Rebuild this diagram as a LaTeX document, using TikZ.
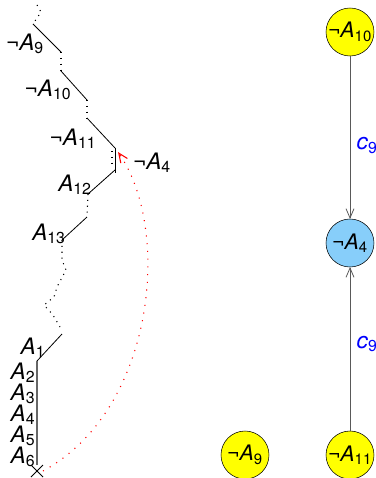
\documentclass[tikz,border=0pt]{standalone}
\usepackage{fontspec}
\setmainfont{TeX Gyre Heros}
\usetikzlibrary{arrows.meta,shapes.misc}
\definecolor{litfill}{RGB}{255,255,0}
\definecolor{focusfill}{RGB}{135,206,250}
\newcommand\lit[1]{\textit{A}\textsubscript{#1}}
\newcommand\nlit[1]{¬\lit{#1}}
\newcommand\cl[1]{\textit{c}\textsubscript{#1}}

\begin{document}
\begin{tikzpicture}[x=0.75pt,y=-0.75pt,
  every node/.style={inner sep=0pt, outer sep=0pt, font=\fontsize{17}{19}\selectfont},
  trail/.style={line width=0.6pt},
  gap/.style={line width=0.8pt, dash pattern=on 0.8pt off 3.6pt},
  lit/.style={circle, draw, fill=litfill, minimum size=36pt, font=\fontsize{16}{18}\selectfont},
  focus/.style={lit, fill=focusfill},
  clause/.style={text=blue},
  edge/.style={draw=black!65, line width=0.6pt, -{Straight Barb[length=7pt,width=6pt]}}]
  \useasboundingbox (0,0) rectangle (375,478);
  \draw[gap] (37,5) -- (41,12) -- (33,24);
  \draw[trail] (33,24) -- (61,52);
  \draw[gap] (61,52) -- (61,71);
  \draw[trail] (61,71) -- (87,100);
  \draw[gap] (87,100) -- (87,118);
  \draw[trail] (87,118) -- (115,148);
  \draw[gap] (112,151) -- (112,166);
  \draw[trail] (115,148) -- (115,173);
  \draw[trail] (115,170) -- (88,194);
  \draw[gap] (88,194) -- (87,217);
  \draw[trail] (87,217) -- (62,240);
  \draw[gap] (62,240) -- (62,260) -- (66,270) -- (57,287) -- (54,297) -- (44,305) -- (53,315) -- (60,327);
  \draw[trail] (62,334) -- (37,361);
  \draw[black!60, line width=1pt] (37,361) -- (37,465);
  \node[cross out, draw, minimum size=9pt, line width=0.6pt] (root) at (37,471) {};
  \node (n9) at (25,44) {\nlit{9}};
  \node (n10) at (48,90) {\nlit{10}};
  \node (n11) at (73,139) {\nlit{11}};
  \node (n4) at (152,163) {\nlit{4}};
  \node (p12) at (75,185) {\lit{12}};
  \node (p13) at (49,234) {\lit{13}};
  \node (p1) at (33,348) {\lit{1}};
  \node (p2) at (23,373) {\lit{2}};
  \node (p3) at (23,394) {\lit{3}};
  \node (p4) at (23,415) {\lit{4}};
  \node (p5) at (23,436) {\lit{5}};
  \node (p6) at (23,457) {\lit{6}};
  \coordinate (back) at (118,152);
  \draw[red, line width=0.8pt, dash pattern=on 0.8pt off 5pt, -{Straight Barb[length=7pt,width=6pt]}]
    (root.east) .. controls (155,410) and (172,230) .. (back);
  \node[lit] (r10) at (350,32) {\nlit{10}};
  \node[focus] (r4) at (350,243) {\nlit{4}};
  \node[lit] (r11) at (350,455) {\nlit{11}};
  \node[lit] (r9) at (245,455) {\nlit{9}};
  \draw[edge] (r10) -- (r4) node[clause, pos=0.55, right=5pt] {\cl{9}};
  \draw[edge] (r11) -- (r4) node[clause, pos=0.53, right=5pt] {\cl{9}};
\end{tikzpicture}
\end{document}
